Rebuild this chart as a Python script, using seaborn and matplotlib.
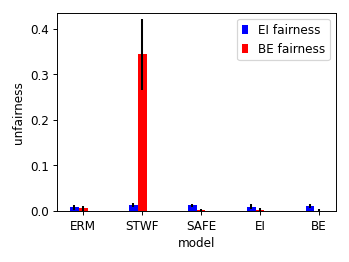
import numpy as np
import pandas as pd
import matplotlib
matplotlib.use("Agg")
import matplotlib.pyplot as plt
import seaborn as sns

models = ["ERM", "STWF", "SAFE", "EI", "BE"]
ei_fairness = [0.008, 0.013, 0.012, 0.0095, 0.0105]
ei_err = [0.005, 0.004, 0.004, 0.005, 0.005]
be_fairness = [0.006, 0.344, 0.002, 0.003, 0.001]
be_err = [0.005, 0.078, 0.003, 0.004, 0.003]
series = ["EI fairness", "BE fairness"]
colors = {"EI fairness": "blue", "BE fairness": "red"}

df = pd.DataFrame({
    "model": models * 2,
    "metric": [series[0]] * len(models) + [series[1]] * len(models),
    "unfairness": ei_fairness + be_fairness,
    "err": ei_err + be_err,
})

DPI = 86.4
fig, ax = plt.subplots(figsize=(349.2 / DPI, 262.2 / DPI), dpi=DPI)
sns.barplot(data=df, x="model", y="unfairness", hue="metric", palette=colors,
            width=0.3, errorbar=None, ax=ax, saturation=1)

bars = ax.patches[: len(df)]
xs, ys = [], []
for p in bars:
    xs.append(p.get_x() + p.get_width() / 2)
    ys.append(p.get_height())
ax.errorbar(xs, ys, yerr=list(df["err"]), fmt="none", ecolor="black", elinewidth=1.7)

bw = bars[0].get_width()
ax.set_xticks(np.arange(len(models)) + bw / 2)
ax.set_xticklabels(models)
ax.set_xlim(-0.365, 4.365)
ax.set_ylim(0, 0.435)
ax.set_yticks([0.0, 0.1, 0.2, 0.3, 0.4])
ax.set_xlabel("model")
ax.set_ylabel("unfairness")
ax.legend(title=None, loc="upper right", handlelength=0.5, handleheight=0.8)

fig.subplots_adjust(left=57.3 / 349, right=335.7 / 349, top=1 - 13 / 262, bottom=1 - 211 / 262)
fig.savefig("out.png", dpi=DPI)
